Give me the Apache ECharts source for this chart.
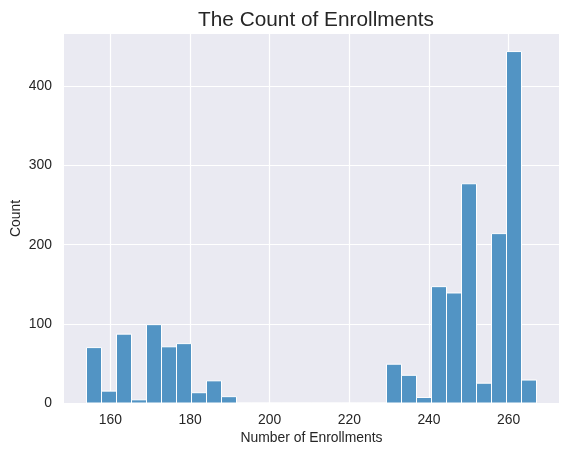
<!DOCTYPE html>
<html>
<head>
<meta charset="utf-8">
<script src="https://cdn.jsdelivr.net/npm/echarts@6/dist/echarts.min.js"></script>
<style>
  html, body { margin: 0; padding: 0; background: #fff; }
  #root { width: 568px; height: 456px; }
</style>
</head>
<body>
<div id="root"></div>
<script>
// histogram: 30 equal bins between binMin and binMax
var binMin = 154;
var binMax = 267;
var counts = [70, 15, 87, 4, 99, 71, 75, 13, 28, 8,
              0, 0, 0, 0, 0, 0, 0, 0, 0, 0,
              49, 35, 7, 147, 139, 277, 25, 214, 444, 29];
var xTicks = [160, 180, 200, 220, 240, 260];
var yTicks = [0, 100, 200, 300, 400];

var binWidth = (binMax - binMin) / counts.length;
var bins = counts.map(function (c, i) {
  return [binMin + i * binWidth, binMin + (i + 1) * binWidth, c];
});

var textColor = "#262626";
var font = "Liberation Sans, Arial, sans-serif";

var MyChart = echarts.init(document.getElementById("root"));
var option = {
  animation: false,
  backgroundColor: "#ffffff",
  title: {
    text: "The Count of Enrollments",
    left: 311,
    textAlign: "center",
    top: 5,
    textStyle: { color: textColor, fontSize: 20.8, fontWeight: "normal", fontFamily: font },
  },
  grid: {
    left: 64,
    right: 9,
    top: 34,
    bottom: 53,
    outerBoundsMode: "none",
    containLabel: false,
    show: true,
    backgroundColor: "#EAEAF2",
    borderWidth: 0,
  },
  xAxis: {
    type: "value",
    min: 148.35,
    max: 272.65,
    name: "Number of Enrollments",
    nameLocation: "middle",
    nameGap: 28.5,
    nameMoveOverlap: false,
    nameTextStyle: { color: textColor, fontSize: 13.9, fontFamily: font },
    axisLine: { show: false },
    axisTick: { show: false, customValues: xTicks },
    axisLabel: { customValues: xTicks, color: textColor, fontSize: 13.9, fontFamily: font, margin: 10 },
    splitLine: { show: true, lineStyle: { color: "#ffffff", width: 1.2 } },
  },
  yAxis: {
    type: "value",
    min: 0,
    max: 466.2,
    name: "Count",
    nameLocation: "middle",
    nameGap: 41,
    nameMoveOverlap: false,
    nameTextStyle: { color: textColor, fontSize: 13.9, fontFamily: font },
    axisLine: { show: false },
    axisTick: { show: false, customValues: yTicks },
    axisLabel: { customValues: yTicks, color: textColor, fontSize: 13.9, fontFamily: font, margin: 12 },
    splitLine: { show: true, lineStyle: { color: "#ffffff", width: 1.2 } },
  },
  series: [
    {
      type: "custom",
      data: bins,
      renderItem: function (params, api) {
        var p0 = api.coord([api.value(0), 0]);
        var p1 = api.coord([api.value(1), api.value(2)]);
        return {
          type: "rect",
          shape: { x: p0[0], y: p1[1], width: p1[0] - p0[0], height: p0[1] - p1[1] },
          style: { fill: "#5294C4", stroke: "#ffffff", lineWidth: 1 },
        };
      },
    },
  ],
};
MyChart.setOption(option);
</script>
</body>
</html>
